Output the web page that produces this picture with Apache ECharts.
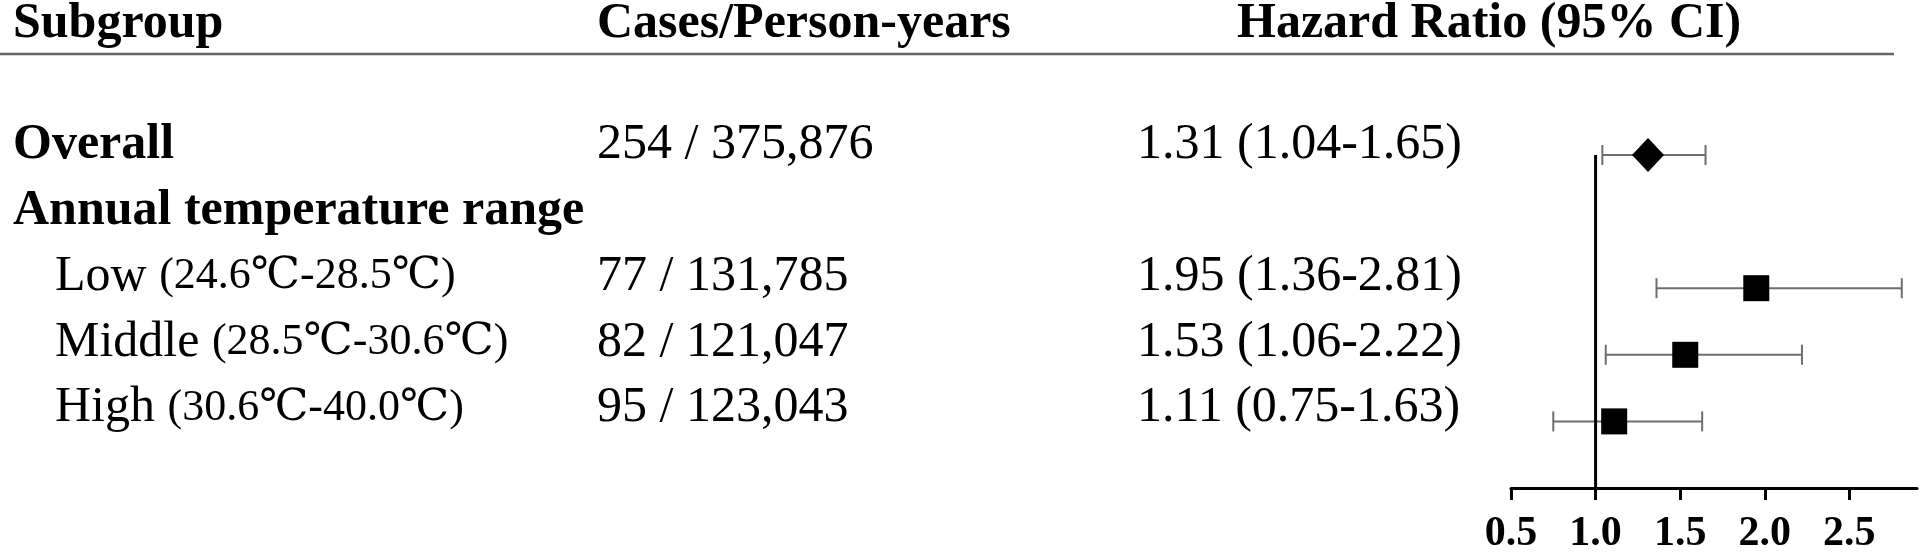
<!DOCTYPE html>
<html>
<head>
<meta charset="utf-8">
<title>Forest plot</title>
<script src="https://cdn.jsdelivr.net/npm/echarts@6/dist/echarts.min.js"></script>
<style>
html,body{margin:0;padding:0;background:#fff;}
#chartmain{width:1920px;height:555px;}
</style>
</head>
<body>
<div id="chartmain"></div>
<script>
// table data
var headers=['Subgroup','Cases/Person-years','Hazard Ratio (95% CI)'];
var subgroups=['Overall','Annual temperature range','Low','Middle','High'];
var ranges=['','','(24.6℃-28.5℃)','(28.5℃-30.6℃)','(30.6℃-40.0℃)'];
var cases=['254 / 375,876','','77 / 131,785','82 / 121,047','95 / 123,043'];
var hr=[1.31,null,1.95,1.53,1.11];
var lower=[1.04,null,1.36,1.06,0.75];
var upper=[1.65,null,2.81,2.22,1.63];
var xTicks=[0.5,1.0,1.5,2.0,2.5];

var serif='"Liberation Serif","Times New Roman","DejaVu Serif","Noto Sans CJK SC",serif';

function rowIndex(value) {
	var i=Math.round(value);
	if(i<0||i>=subgroups.length)return -1;
	return i;
}
function fmtSubgroup(value) {
	var i=rowIndex(value);
	if(i<0)return '';
	if(ranges[i]=='') return '{b|'+subgroups[i]+'}';
	return '{ni|'+subgroups[i]+' }{s|'+ranges[i]+'}';
}
function fmtCases(value) {
	var i=rowIndex(value);
	if(i<0||cases[i]=='')return '';
	return '{n|'+cases[i]+'}';
}
function fmtHR(value) {
	var i=rowIndex(value);
	if(i<0||hr[i]==null)return '';
	return '{n|'+hr[i].toFixed(2)+' ('+lower[i].toFixed(2)+'-'+upper[i].toFixed(2)+')}';
}

var richText={
	b:{fontFamily:serif,fontSize:50,fontWeight:'bold',color:'#000'},
	n:{fontFamily:serif,fontSize:50,color:'#000'},
	ni:{fontFamily:serif,fontSize:50,color:'#000',padding:[0,0,0,42]},
	s:{fontFamily:serif,fontSize:44,color:'#000'}
};

function textAxis(grid,fmt) {
	return {
		type:'value',gridIndex:grid,inverse:true,min:0,max:5,interval:1,
		axisLine:{show:false},axisTick:{show:false},splitLine:{show:false},
		axisLabel:{align:'left',margin:0,formatter:fmt,rich:richText}
	};
}
function hiddenX(grid) {
	return {type:'value',gridIndex:grid,show:false,min:0,max:1};
}

var ciData=[],pointData=[];
for(var i=0;i<hr.length;i++) {
	if(hr[i]==null)continue;
	ciData.push([lower[i],upper[i],i]);
	pointData.push({
		value:[hr[i],i],
		symbol:i==0?'diamond':'rect',
		symbolSize:i==0?[32,34]:26
	});
}

var headStyle={fontFamily:serif,fontSize:50,fontWeight:'bold',color:'#000'};
var myChart=echarts.init(document.getElementById('chartmain'));
var option={
	backgroundColor:'#fff',
	animation:false,
	title:[
		{text:headers[0],left:13,top:-1,padding:0,textStyle:headStyle},
		{text:headers[1],left:597,top:-1,padding:0,textStyle:headStyle},
		{text:headers[2],left:1237,top:-1,padding:0,textStyle:headStyle}
	],
	graphic:[{
		type:'line',
		shape:{x1:0,y1:54,x2:1894,y2:54},
		style:{stroke:'#666',lineWidth:2.5}
	}],
	grid:[
		{left:1511,width:406,top:155,height:335},
		{left:13,width:10,top:145,height:329},
		{left:597,width:10,top:145,height:329},
		{left:1137,width:10,top:145,height:329}
	],
	xAxis:[
		{
			type:'value',gridIndex:0,position:'bottom',min:0.5,max:2.9,interval:0.5,
			axisLine:{show:true,onZero:false,lineStyle:{color:'#000',width:3}},
			axisTick:{show:true,length:12,customValues:xTicks,lineStyle:{color:'#000',width:3}},
			splitLine:{show:false},
			axisLabel:{
				customValues:xTicks,margin:25,color:'#000',
				fontFamily:serif,fontSize:42,fontWeight:'bold',
				formatter:function(v){return v.toFixed(1);}
			}
		},
		hiddenX(1),hiddenX(2),hiddenX(3)
	],
	yAxis:[
		{type:'value',gridIndex:0,inverse:true,min:0,max:5,show:false},
		textAxis(1,fmtSubgroup),
		textAxis(2,fmtCases),
		textAxis(3,fmtHR)
	],
	series:[
		{
			name:'ref',type:'line',xAxisIndex:0,yAxisIndex:0,
			data:[[1,0],[1,5]],symbol:'none',silent:true,
			lineStyle:{color:'#000',width:3}
		},
		{
			name:'CI',type:'custom',xAxisIndex:0,yAxisIndex:0,
			data:ciData,
			renderItem:function(params,api) {
				var y=api.value(2);
				var a=api.coord([api.value(0),y]);
				var b=api.coord([api.value(1),y]);
				var st={stroke:'#6e6e6e',lineWidth:2};
				return {type:'group',children:[
					{type:'line',shape:{x1:a[0],y1:a[1],x2:b[0],y2:b[1]},style:st},
					{type:'line',shape:{x1:a[0],y1:a[1]-10,x2:a[0],y2:a[1]+10},style:st},
					{type:'line',shape:{x1:b[0],y1:b[1]-10,x2:b[0],y2:b[1]+10},style:st}
				]};
			}
		},
		{
			name:'HR',type:'scatter',xAxisIndex:0,yAxisIndex:0,
			data:pointData,
			itemStyle:{color:'#000',opacity:1}
		}
	]
};
myChart.setOption(option);
</script>
</body>
</html>
